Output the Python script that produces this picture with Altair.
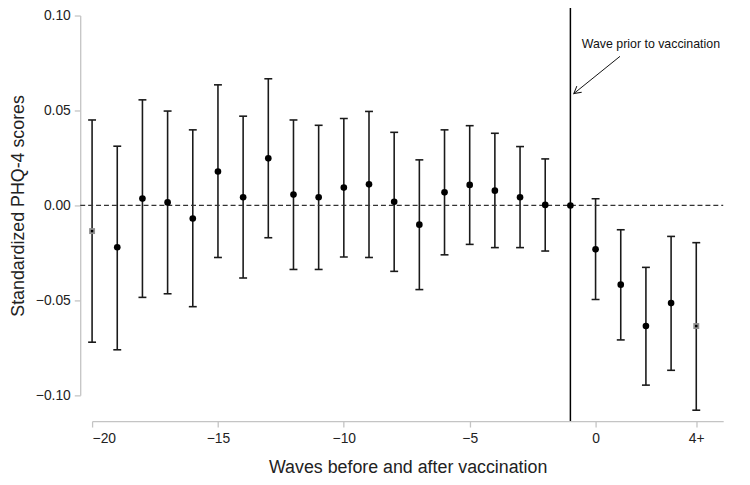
import altair as alt
import pandas as pd

# ---- data ----
waves = list(range(-20, 5))
estimate = [-0.0135, -0.0220, 0.0036, 0.0016, -0.0069, 0.0179, 0.0043, 0.0248,
            0.0057, 0.0043, 0.0094, 0.0111, 0.0019, -0.0101, 0.0069, 0.0108,
            0.0078, 0.0043, 0.0003, 0.0000, -0.0231, -0.0417, -0.0635, -0.0514,
            -0.0635]
ci_low = [-0.0720, -0.0760, -0.0484, -0.0465, -0.0533, -0.0274, -0.0382, -0.0170,
          -0.0337, -0.0337, -0.0271, -0.0274, -0.0347, -0.0443, -0.0260, -0.0205,
          -0.0222, -0.0222, -0.0240, None, -0.0495, -0.0708, -0.0946, -0.0868,
          -0.1078]
ci_high = [0.0450, 0.0312, 0.0556, 0.0497, 0.0398, 0.0635, 0.0470, 0.0667,
           0.0450, 0.0422, 0.0458, 0.0495, 0.0385, 0.0240, 0.0398, 0.0420,
           0.0380, 0.0310, 0.0245, None, 0.0035, -0.0128, -0.0326, -0.0163,
           -0.0196]
square_waves = [-20, 4]  # binned end points drawn as grey squares

x_ticks = [-20, -15, -10, -5, 0, 4]
y_ticks = [-0.10, -0.05, 0.00, 0.05, 0.10]
x_title = "Waves before and after vaccination"
y_title = "Standardized PHQ-4 scores"
note_text = "Wave prior to vaccination"

# reference lines / annotation, in data units
X_DOMAIN = [-20, 5.07]
Y_DOMAIN = [-0.10, 0.10]
ref_wave = -1
zero_line_x = [-20.47, 5.07]
vline_y = [0.108, -0.1135]
note_pos = (-0.55, 0.0851)
arrow_from = (0.97, 0.0785)
arrow_to = (-0.864, 0.0589)

FONT = "Liberation Sans"
INK = "#1a1a1a"
AXIS_GREY = "#c4c4c4"

df = pd.DataFrame({"wave": waves, "est": estimate, "lo": ci_low, "hi": ci_high})
df["marker"] = ["square" if w in square_waves else "circle" for w in waves]
ci_df = df.dropna(subset=["lo", "hi"])

xs = alt.Scale(domain=X_DOMAIN, nice=False, zero=False)
ys = alt.Scale(domain=Y_DOMAIN, nice=False, zero=False)

x_axis = alt.Axis(values=x_ticks, format="d",
                  labelExpr="datum.value == 4 ? '4+' : datum.label",
                  grid=False, offset=26, tickSize=6, labelPadding=5,
                  domainColor=AXIS_GREY, tickColor=AXIS_GREY, domainWidth=1.3,
                  tickWidth=1.3, labelFontSize=14, labelColor="#222",
                  titleFontSize=18, titleFontWeight="normal", titleColor="#222",
                  titlePadding=13, title=x_title, labelFont=FONT, titleFont=FONT)
y_axis = alt.Axis(values=y_ticks, format=".2f", grid=False, offset=12,
                  tickSize=6, labelPadding=4,
                  domainColor=AXIS_GREY, tickColor=AXIS_GREY, domainWidth=1.3,
                  tickWidth=1.3, labelFontSize=14, labelColor="#222",
                  titleFontSize=18, titleFontWeight="normal", titleColor="#222",
                  titlePadding=8, title=y_title, labelFont=FONT, titleFont=FONT)


def X(field):
    return alt.X(field, type="quantitative", scale=xs, axis=x_axis)


def Y(field):
    return alt.Y(field, type="quantitative", scale=ys, axis=y_axis)


# error bar stems
stems = alt.Chart(ci_df).mark_rule(color=INK, strokeWidth=1.6).encode(
    x=X("wave"), y=Y("lo"), y2="hi:Q",
)
caps_lo = alt.Chart(ci_df).mark_tick(orient="horizontal", size=8, thickness=1.6,
                                     color=INK, opacity=1).encode(
    x=X("wave"), y=Y("lo"),
)
caps_hi = alt.Chart(ci_df).mark_tick(orient="horizontal", size=8, thickness=1.6,
                                     color=INK, opacity=1).encode(
    x=X("wave"), y=Y("hi"),
)

zero_df = pd.DataFrame({"x": [zero_line_x[0]], "x2": [zero_line_x[1]], "y": [0.0]})
zero_line = alt.Chart(zero_df).mark_rule(color="#333", strokeWidth=1.2,
                                         strokeDash=[5, 3]).encode(
    x=X("x"), x2="x2:Q", y=Y("y"),
)

vline_df = pd.DataFrame({"x": [ref_wave], "y": [vline_y[0]], "y2": [vline_y[1]]})
vline = alt.Chart(vline_df).mark_rule(color="#000", strokeWidth=1.5).encode(
    x=X("x"), y=Y("y"), y2="y2:Q",
)

circles = alt.Chart(df[df.marker == "circle"]).mark_circle(
    size=45, color="#000", opacity=1).encode(x=X("wave"), y=Y("est"))
squares = alt.Chart(df[df.marker == "square"]).mark_square(
    size=36, color="#8f8f8f", opacity=1).encode(x=X("wave"), y=Y("est"))
square_dots = alt.Chart(df[df.marker == "square"]).mark_square(
    size=6, color="#000", opacity=1).encode(x=X("wave"), y=Y("est"))

note_df = pd.DataFrame({"x": [note_pos[0]], "y": [note_pos[1]], "t": [note_text]})
note = alt.Chart(note_df).mark_text(align="left", baseline="middle",
                                    fontSize=12.5, font=FONT, color="#111").encode(
    x=X("x"), y=Y("y"), text="t:N",
)

arrow_df = pd.DataFrame({"x": [arrow_from[0]], "y": [arrow_from[1]],
                         "x2": [arrow_to[0]], "y2": [arrow_to[1]]})
arrow_line = alt.Chart(arrow_df).mark_rule(color="#111", strokeWidth=1).encode(
    x=X("x"), x2="x2:Q", y=Y("y"), y2="y2:Q",
)
head_df = pd.DataFrame({"x": [arrow_to[0]], "y": [arrow_to[1]]})
arrow_head = alt.Chart(head_df).mark_point(
    shape="M -1 -0.55 L 0 0 L -1 0.55", size=200, angle=141, filled=False,
    color="#111", strokeWidth=1, opacity=1).encode(x=X("x"), y=Y("y"))

chart = alt.layer(
    stems, zero_line, vline, caps_lo, caps_hi, circles, squares, square_dots,
    note, arrow_line, arrow_head,
).properties(
    width=638, height=384,
    autosize=alt.AutoSizeParams(type="none"),
    padding={"left": 85, "top": 5, "right": 19, "bottom": 88},
).configure(font=FONT, background="white").configure_view(stroke=None)

chart.save("out.html", embed_options={"renderer": "svg", "actions": False})
